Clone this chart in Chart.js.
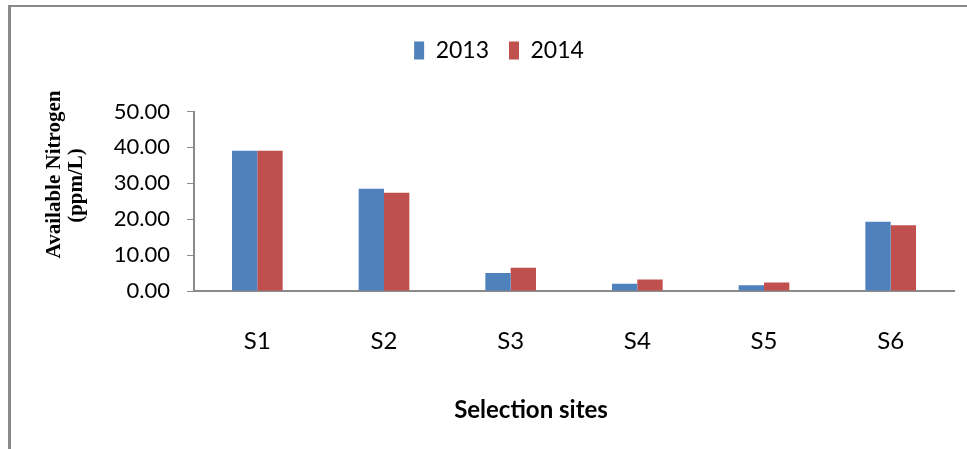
<!DOCTYPE html>
<html><head><meta charset="utf-8">
<script src="https://cdn.jsdelivr.net/npm/chart.js@4"></script>
<style>
html,body{margin:0;padding:0;background:#fff;}
#wrap{position:relative;width:967px;height:449px;overflow:hidden;background:#fff;}
#frame{position:absolute;left:8px;top:5px;width:1000px;height:500px;border-top:2px solid #8a8a8a;border-left:3px solid #8a8a8a;}
canvas{position:absolute;left:0;top:0;}
</style></head><body>
<div id="wrap"><div id="frame"></div><canvas id="c" width="967" height="449"></canvas></div>
<script>
const categories = ['S1', 'S2', 'S3', 'S4', 'S5', 'S6'];
const values2013 = [39.1, 28.5, 5.0, 2.0, 1.6, 19.3];
const values2014 = [39.1, 27.4, 6.5, 3.2, 2.4, 18.3];
const seriesNames = ['2013', '2014'];
const yTickValues = [0, 10, 20, 30, 40, 50];
const yTitleLines = ['Available Nitrogen', '(ppm/L)'];
const xTitle = 'Selection sites';

const AXIS = '#8a8a8a';

const legendGap = {
  id: 'legendGap',
  beforeInit(chart) {
    const lg = chart.legend;
    if (!lg) return;
    const fit = lg.fit;
    lg.fit = function () { fit.call(this); this.height += 39.5; };
  }
};

const axisTitles = {
  id: 'axisTitles',
  afterDraw(chart) {
    const { ctx, chartArea: a } = chart;
    ctx.save();
    ctx.fillStyle = '#000';
    ctx.textAlign = 'center';
    ctx.textBaseline = 'alphabetic';
    ctx.font = 'bold 21px "Liberation Serif", "Times New Roman", serif';
    const lines = [
      [yTitleLines[0], a.left - 134, a.top + 63],
      [yTitleLines[1], a.left - 112, a.top + 74]
    ];
    for (const [t, x, y] of lines) {
      ctx.save();
      ctx.translate(x, y);
      ctx.rotate(-Math.PI / 2);
      ctx.fillText(t, 0, 0);
      ctx.restore();
    }
    ctx.font = 'bold 24px Lato, "Open Sans", sans-serif';
    ctx.fillText(xTitle, a.left + 337, a.bottom + 127);
    ctx.restore();
  }
};

new Chart(document.getElementById('c'), {
  type: 'bar',
  data: {
    labels: categories,
    datasets: [
      { label: seriesNames[0], data: values2013, backgroundColor: '#4F81BD', borderWidth: 0 },
      { label: seriesNames[1], data: values2014, backgroundColor: '#C0504D', borderWidth: 0 }
    ]
  },
  options: {
    responsive: false,
    animation: false,
    layout: { padding: { left: 44, right: 13, top: 19, bottom: 0 } },
    datasets: { bar: { categoryPercentage: 0.4, barPercentage: 1.0 } },
    plugins: {
      legend: {
        position: 'top',
        labels: {
          boxWidth: 10,
          boxHeight: 18,
          padding: 20,
          color: '#000',
          font: { family: 'Lato, "Open Sans", sans-serif', size: 23 }
        }
      },
      tooltip: { enabled: false }
    },
    scales: {
      x: {
        grid: { display: true, drawOnChartArea: false, drawTicks: false },
        border: { display: true, color: AXIS, width: 2 },
        ticks: { padding: 36, color: '#000', font: { family: 'Lato, "Open Sans", sans-serif', size: 24 } },
        afterFit(scale) { scale.height = 158; }
      },
      y: {
        min: 0,
        max: 50,
        grid: { display: true, drawOnChartArea: false, drawTicks: true, tickLength: 7, color: AXIS, lineWidth: 1 },
        border: { display: true, color: AXIS, width: 2 },
        afterBuildTicks(scale) { scale.ticks = yTickValues.map(v => ({ value: v })); },
        ticks: {
          padding: 17,
          color: '#000',
          font: { family: 'Lato, "Open Sans", sans-serif', size: 22 },
          callback: v => Number(v).toFixed(2)
        },
        afterFit(scale) { scale.width = 150; }
      }
    }
  },
  plugins: [legendGap, axisTitles]
});
</script>
</body></html>
